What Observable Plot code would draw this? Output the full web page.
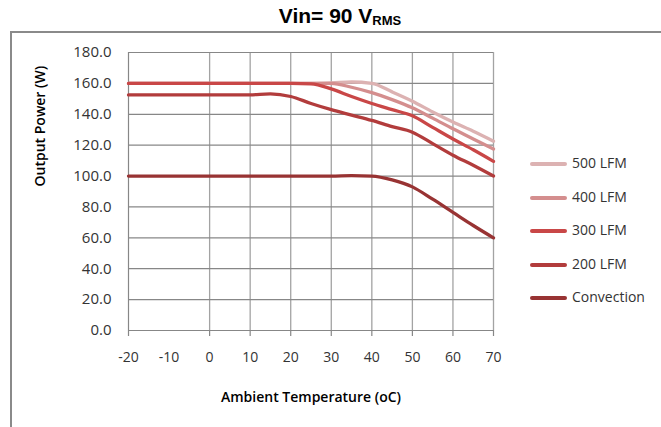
<!DOCTYPE html>
<html>
<head>
<meta charset="utf-8">
<script src="https://cdn.jsdelivr.net/npm/d3@7"></script>
<script src="https://cdn.jsdelivr.net/npm/@observablehq/plot@0.6"></script>
<style>
  body { margin: 0; background: #fff; }
  #wrap { position: relative; width: 661px; height: 427px; overflow: hidden; background: #fff; }
  #frame { position: absolute; left: 10px; top: 31px; width: 700px; height: 450px;
           border-left: 2px solid #8a8a8a; border-top: 2px solid #8a8a8a; }
  #title { position: absolute; left: 240px; width: 200px; top: 4px; text-align: center;
           font-family: "Liberation Sans", Arial, sans-serif; font-weight: bold; font-size: 21px; color: #000; }
  #title sub { font-size: 13px; vertical-align: -2px; }
  #chart { position: absolute; left: 0; top: 0; }
  .leg { position: absolute; left: 530px; height: 20px; font-family: "Open Sans", sans-serif; font-size: 14px; color: #333; }
  .leg .sw { position: absolute; left: 0; top: 8px; width: 37px; height: 4px; border-radius: 2px; }
  .leg .lb { position: absolute; left: 42px; top: -1px; white-space: nowrap; }
</style>
</head>
<body>
<div id="wrap">
  <div id="frame"></div>
  <div id="chart"></div>
  <div id="title">Vin= 90 V<sub>RMS</sub></div>
</div>
<script>
// ---- data ----
const temps   = [-20, -10, 0, 10, 15, 20, 25, 30, 35, 40, 45, 50, 55, 60, 65, 70];
const lfm500  = [160, 160, 160, 160, 160, 160, 160, 160.3, 160.9, 160, 154.5, 148.5, 141.5, 135, 129, 122.6];
const lfm400  = [160, 160, 160, 160, 160, 160, 160, 160, 157.5, 154, 149.5, 144.2, 137.5, 130.6, 124, 117.5];
const lfm300  = [160, 160, 160, 160, 160, 160, 159.7, 156.4, 151.5, 147, 143, 139, 131.5, 124, 117, 109.5];
const lfm200  = [152.5, 152.5, 152.5, 152.6, 153.2, 151.5, 147, 143, 139.5, 136, 132, 128.4, 121, 113.5, 107, 100];
const convect = [100, 100, 100, 100, 100, 100, 100, 100, 100.3, 100, 97.5, 93, 85, 76.5, 68, 60];

const seriesNames  = ["500 LFM", "400 LFM", "300 LFM", "200 LFM", "Convection"];
const seriesValues = [lfm500, lfm400, lfm300, lfm200, convect];
const seriesColors = ["#dcb2b2", "#d48e8e", "#c94747", "#b23c3c", "#983333"];

const xTickLabels = [-20, -10, 0, 10, 20, 30, 40, 50, 60, 70];
const xTickMarks  = [-20, 0, 10, 20, 30, 40, 50, 60, 70];
const xGrid       = [0, 10, 20, 30, 40, 50, 60, 70];
const yTicks      = [0, 20, 40, 60, 80, 100, 120, 140, 160, 180];
const xTitle = "Ambient Temperature (oC)";
const yTitle = "Output Power (W)";

const rows = [];
seriesNames.forEach((name, i) => {
  temps.forEach((t, j) => rows.push({ series: name, t, p: seriesValues[i][j] }));
});

const font = "'Open Sans', sans-serif";

const chart = Plot.plot({
  width: 661,
  height: 427,
  marginLeft: 128,
  marginRight: 168,
  marginTop: 52,
  marginBottom: 97,
  style: { background: "transparent", fontFamily: font, overflow: "visible" },
  x: { domain: [-20, 70], axis: null },
  y: { domain: [0, 180], axis: null },
  color: { domain: seriesNames, range: seriesColors },
  marks: [
    Plot.ruleX(xGrid, { stroke: "#a3a3a3", strokeWidth: 1.3 }),
    Plot.ruleY(yTicks, { stroke: "#878787", strokeWidth: 1.2 }),
    Plot.ruleX([-20], { stroke: "#878787", strokeWidth: 1.2 }),
    Plot.axisX({ ticks: xTickMarks, tickSize: 6, text: null, label: null, stroke: "#878787", strokeWidth: 1.2 }),
    Plot.axisX({ ticks: xTickLabels, tickSize: 0, tickPadding: 22, tickFormat: d => String(d), fontSize: 14, fill: "#333", fontFamily: font, label: null }),
    Plot.axisY({ ticks: yTicks, tickSize: 0, tickPadding: 17, tickFormat: d3.format(".1f"), fontSize: 15, fill: "#333", fontFamily: font, label: null }),
    Plot.line(rows, { x: "t", y: "p", z: "series", stroke: "series", strokeWidth: 3.3, curve: "monotone-x" }),
    Plot.text([xTitle], { text: d => d, frameAnchor: "bottom", dy: 71, fontSize: 14, fontWeight: 600, fill: "#000", fontFamily: font }),
    Plot.text([yTitle], { text: d => d, frameAnchor: "left", dx: -88, dy: -5, rotate: -90, fontSize: 14, fontWeight: 600, fill: "#000", fontFamily: font })
  ]
});
document.getElementById("chart").appendChild(chart);

// legend
const legTops = [154, 188, 221, 255, 288];
const wrap = document.getElementById("wrap");
seriesNames.forEach((name, i) => {
  const d = document.createElement("div");
  d.className = "leg";
  d.style.top = legTops[i] + "px";
  d.innerHTML = `<div class="sw" style="background:${seriesColors[i]}"></div><div class="lb">${name}</div>`;
  wrap.appendChild(d);
});
</script>
</body>
</html>
